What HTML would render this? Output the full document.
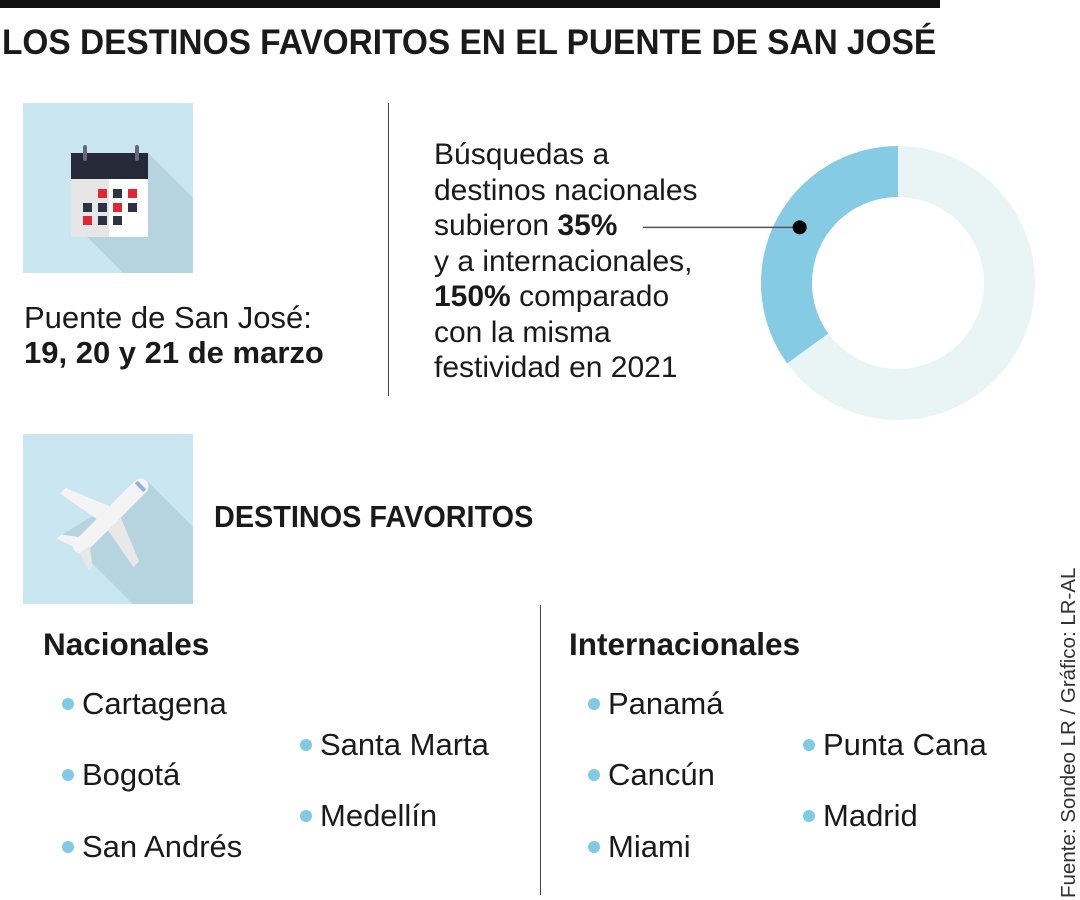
<!DOCTYPE html>
<html><head><meta charset="utf-8"><style>
body{margin:0;width:1080px;height:900px;background:#fff;position:relative;overflow:hidden;font-family:"Liberation Sans",sans-serif;color:#1a1a1a}
.abs{position:absolute}
.t{font-size:30px;line-height:35.5px;white-space:nowrap}
.li{font-size:31px;white-space:nowrap}
.dot{display:inline-block;width:12px;height:12px;border-radius:50%;background:#7ecbe3;margin-right:8px;vertical-align:4px}
</style></head><body>
<div class="abs" style="left:0;top:0;width:940px;height:8px;background:#111"></div>
<div class="abs" style="left:2px;top:23px;font-size:35px;font-weight:bold;white-space:nowrap;transform:scaleX(0.955);transform-origin:left">LOS DESTINOS FAVORITOS EN EL PUENTE DE SAN JOSÉ</div>

<svg class="abs" style="left:23px;top:103px" width="170" height="170">
<rect width="170" height="170" fill="#c9e6f1"/>
<polygon points="125,50 170,95 170,170 100,170 48,118 125,118" fill="#b6d4df"/>
<rect x="48" y="50" width="77" height="26" fill="#262a38"/>
<rect x="48" y="76" width="38" height="58" fill="#e6e6e6"/>
<rect x="86" y="76" width="39" height="58" fill="#fff"/>
<rect x="60" y="42" width="4" height="16" rx="2" fill="#666a77"/>
<rect x="112" y="42" width="4" height="16" rx="2" fill="#666a77"/>
<g fill="#2c3344"><rect x="90" y="86" width="9" height="9"/><rect x="60" y="100" width="9" height="9"/><rect x="75" y="100" width="9" height="9"/><rect x="105" y="100" width="9" height="9"/><rect x="75" y="113" width="9" height="9"/><rect x="90" y="113" width="9" height="9"/></g>
<g fill="#e0282e"><rect x="75" y="86" width="9" height="9"/><rect x="105" y="86" width="9" height="9"/><rect x="90" y="100" width="9" height="9"/><rect x="60" y="113" width="9" height="9"/></g>
</svg>
<div class="abs" style="left:24px;top:300px;font-size:31px;line-height:35px;white-space:nowrap">Puente de San José:<br><b>19, 20 y 21 de marzo</b></div>
<div class="abs" style="left:388px;top:103px;width:1px;height:293px;background:#444"></div>
<div class="abs t" style="left:434px;top:137px">Búsquedas a<br>destinos nacionales<br>subieron <b>35%</b><br>y a internacionales,<br><b>150%</b> comparado<br>con la misma<br>festividad en 2021</div>

<svg class="abs" id="donut" style="left:0;top:0" width="1080" height="900"></svg>

<svg class="abs" style="left:23px;top:434px" width="170" height="170">
<rect width="170" height="170" fill="#c9e6f1"/>
<polygon points="125,48 170,93 170,170 110,170 40,100" fill="#b6d4df"/>
<g transform="translate(85,85) rotate(45)">
<rect x="-8" y="-54" width="16" height="100" rx="8" fill="#f4f4f4"/>
<polygon points="-8,-10 -52,8 -52,16 -8,8" fill="#f4f4f4"/>
<polygon points="8,-10 52,8 52,16 8,8" fill="#e8e8e8"/>
<polygon points="-6,32 -22,44 -22,50 -4,44" fill="#f4f4f4"/>
<polygon points="6,32 22,44 22,50 4,44" fill="#e8e8e8"/>
<rect x="-6" y="-48" width="12" height="4" fill="#8fb3de"/>
</g>
</svg>
<div class="abs" style="left:214px;top:499px;font-size:31px;font-weight:bold;white-space:nowrap;transform:scaleX(0.93);transform-origin:left">DESTINOS FAVORITOS</div>

<div class="abs" style="left:540px;top:605px;width:1px;height:290px;background:#444"></div>
<div class="abs" style="left:43px;top:626px;font-size:31.5px;font-weight:bold">Nacionales</div>
<div class="abs" style="left:569px;top:626px;font-size:31.5px;font-weight:bold">Internacionales</div>
<div class="abs li" style="left:62px;top:686px"><span class="dot"></span>Cartagena</div>
<div class="abs li" style="left:62px;top:757px"><span class="dot"></span>Bogotá</div>
<div class="abs li" style="left:62px;top:829px"><span class="dot"></span>San Andrés</div>
<div class="abs li" style="left:300px;top:727px"><span class="dot"></span>Santa Marta</div>
<div class="abs li" style="left:300px;top:798px"><span class="dot"></span>Medellín</div>
<div class="abs li" style="left:588px;top:686px"><span class="dot"></span>Panamá</div>
<div class="abs li" style="left:588px;top:757px"><span class="dot"></span>Cancún</div>
<div class="abs li" style="left:588px;top:829px"><span class="dot"></span>Miami</div>
<div class="abs li" style="left:803px;top:727px"><span class="dot"></span>Punta Cana</div>
<div class="abs li" style="left:803px;top:798px"><span class="dot"></span>Madrid</div>
<div class="abs" style="left:1057px;top:898px;font-size:20.5px;white-space:nowrap;transform:rotate(-90deg);transform-origin:left top;color:#333">Fuente: Sondeo LR / Gráfico: LR-AL</div>

<script>
const categories = ["Nacionales", "Resto"];
const values = [35, 65];
const colors = ["#84cbe3", "#e9f4f4"];
const svg = document.getElementById('donut');
const ns = 'http://www.w3.org/2000/svg';
const cx = 898, cy = 283, R = 137, r = 86;
const total = values.reduce((a, b) => a + b, 0);
function pt(rad, f) { const a = f * 2 * Math.PI; return [cx + rad * Math.sin(a), cy - rad * Math.cos(a)]; }
let start = 0;
values.forEach((v, i) => {
  const f0 = start, f1 = start - v / total;
  start = f1;
  const large = v / total > 0.5 ? 1 : 0;
  const a = pt(R, f0), b = pt(R, f1), c = pt(r, f1), d = pt(r, f0);
  const p = document.createElementNS(ns, 'path');
  p.setAttribute('d', `M${a} A${R},${R} 0 ${large} 0 ${b} L${c} A${r},${r} 0 ${large} 1 ${d} Z`);
  p.setAttribute('fill', colors[i]);
  
  
  svg.appendChild(p);
});
const mid = pt(113, -values[0] / total * 0.48);
const ln = document.createElementNS(ns, 'line');
ln.setAttribute('x1', 643); ln.setAttribute('y1', mid[1]); ln.setAttribute('x2', mid[0]); ln.setAttribute('y2', mid[1]);
ln.setAttribute('stroke', '#555'); ln.setAttribute('stroke-width', '1.5');


svg.appendChild(ln);
const dt = document.createElementNS(ns, 'circle');
dt.setAttribute('cx', mid[0]); dt.setAttribute('cy', mid[1]); dt.setAttribute('r', 7); dt.setAttribute('fill', '#000');


svg.appendChild(dt);
</script>
</body></html>
